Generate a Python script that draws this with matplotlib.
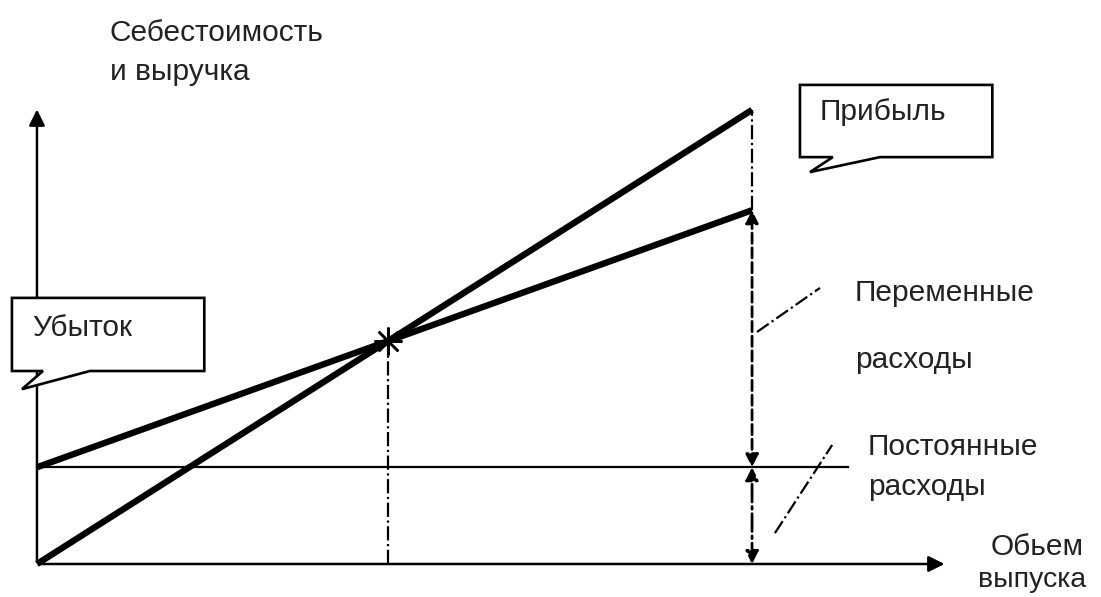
import matplotlib
matplotlib.use("Agg")
import matplotlib.pyplot as plt
from matplotlib.patches import Polygon

plt.rcParams['font.family'] = ['Liberation Sans', 'DejaVu Sans']

# break-even chart data (volume 0..100, money units)
volume = [0, 100]
price = 1.0          # revenue per unit
fixed_cost = 21.3
var_cost = 0.566     # variable cost per unit

revenue = [price * q for q in volume]
total_cost = [fixed_cost + var_cost * q for q in volume]
q_be = fixed_cost / (price - var_cost)
v_be = price * q_be
q_end = volume[-1]

fig = plt.figure(figsize=(11.01, 5.97), dpi=100)
ax = fig.add_axes([0, 0, 1, 1])
ax.set_xlim(-5.17, 148.8)
ax.set_ylim(-7.27, 124.2)
ax.axis('off')

# axes with arrows
ax.annotate('', xy=(127.3, 0), xytext=(0, 0),
            arrowprops=dict(arrowstyle='-|>', lw=1.8, color='black', mutation_scale=24))
ax.annotate('', xy=(0, 100.7), xytext=(0, 0),
            arrowprops=dict(arrowstyle='-|>', lw=1.8, color='black', mutation_scale=24))

# fixed cost line
ax.plot([0, 113.4], [fixed_cost, fixed_cost], color='black', lw=1.6)

# revenue and total cost
ax.plot(volume, revenue, color='black', lw=4.6, solid_capstyle='butt')
ax.plot(volume, total_cost, color='black', lw=4.6, solid_capstyle='butt')

# break-even point
ax.plot([q_be, q_be], [0, v_be], color='black', lw=1.6, ls='-.')
ax.plot(q_be, v_be, marker=(8, 2, 0), ms=20, color='black', mew=1.8)

# profit gap at end
ax.plot([q_end, q_end], [total_cost[-1], revenue[-1]], color='black', lw=1.6, ls='-.')

# variable and fixed cost dimension arrows
ax.annotate('', xy=(q_end, total_cost[-1]), xytext=(q_end, fixed_cost),
            arrowprops=dict(arrowstyle='<|-|>', lw=2.0, ls='--', color='black',
                            mutation_scale=19, shrinkA=0, shrinkB=0))
ax.annotate('', xy=(q_end, fixed_cost), xytext=(q_end, 0),
            arrowprops=dict(arrowstyle='<|-|>', lw=2.0, ls='-.', color='black',
                            mutation_scale=19, shrinkA=0, shrinkB=0))

# leader lines
ax.plot([100.7, 109.5], [51.1, 60.8], color='black', lw=1.6, ls='-.')
ax.plot([103.2, 111.2], [6.8, 26.2], color='black', lw=1.6, ls='-.')

# callout boxes
profit_box = [(106.7, 105.5), (133.6, 105.5), (133.6, 89.6), (117.9, 89.6),
              (108.1, 86.3), (111.3, 89.6), (106.7, 89.6)]
loss_box = [(-3.5, 58.6), (23.4, 58.6), (23.4, 42.5), (7.4, 42.5),
            (-2.1, 38.5), (0.84, 42.5), (-3.5, 42.5)]
for pts in (profit_box, loss_box):
    ax.add_patch(Polygon(pts, closed=True, fill=True, fc='white', ec='black', lw=1.9, zorder=3))

tcol = '#222222'
fs = 21.5
ax.text(10.2, 117, 'Себестоимость', fontsize=fs, color=tcol, va='center')
ax.text(10.2, 108.4, 'и выручка', fontsize=fs, color=tcol, va='center')
ax.text(109.5, 99.6, 'Прибыль', fontsize=fs, color=tcol, va='center', zorder=4)
ax.text(-0.7, 52, 'Убыток', fontsize=fs, color=tcol, va='center', zorder=4)
ax.text(114.4, 59.7, 'Переменные', fontsize=fs, color=tcol, va='center')
ax.text(114.4, 44.9, 'расходы', fontsize=fs, color=tcol, va='center')
ax.text(116.2, 25.8, 'Постоянные', fontsize=fs, color=tcol, va='center')
ax.text(116.2, 17.0, 'расходы', fontsize=fs, color=tcol, va='center')
ax.text(133.3, 3.7, 'Обьем', fontsize=fs, color=tcol, va='center')
ax.text(131.6, -3.5, 'выпуска', fontsize=20.5, color=tcol, va='center')

fig.savefig('out.png', dpi=100)
